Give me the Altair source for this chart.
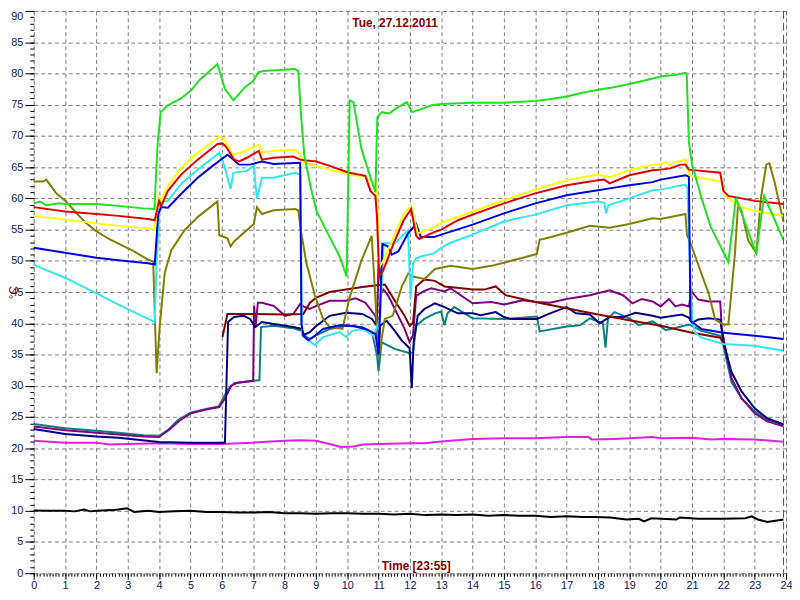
import altair as alt
import pandas as pd

# ---- data: (hour, temperature) ----
GREEN = [(0, 59.2), (0.19, 59.5), (0.4, 58.9), (0.82, 59.2), (1.0, 59.1), (2.0, 59.1), (2.7, 58.8), (3.5, 58.4),
         (3.85, 58.3), (3.95, 68.6), (4.05, 73.8), (4.28, 74.9), (4.5, 75.5), (4.7, 76.0), (5.02, 77.3), (5.3, 79.0),
         (5.86, 81.5), (6.1, 77.5), (6.37, 75.7), (6.74, 77.8), (7.0, 78.8), (7.17, 80.2), (7.33, 80.4), (8.33, 80.7),
         (8.44, 80.4), (8.52, 73.8), (8.63, 67.0), (8.84, 61.7), (9.02, 58.0), (9.44, 53.8), (9.76, 50.7), (9.98, 47.5),
         (10.08, 75.7), (10.2, 75.4), (10.45, 68.0), (10.7, 64.0), (10.9, 61.0), (10.96, 73.0), (11.1, 73.8),
         (11.35, 73.6), (11.5, 74.2), (11.9, 75.4), (12.08, 73.8), (12.7, 74.9), (13, 75.1), (14, 75.3), (15, 75.3),
         (16, 75.6), (16.5, 75.9), (17, 76.3), (17.5, 76.9), (18, 77.4), (18.5, 77.8), (19, 78.3), (19.42, 78.8),
         (20, 79.5), (20.5, 79.8), (20.79, 80.1), (20.83, 80.0), (20.9, 69.0), (21.0, 65.4), (21.3, 60.1),
         (21.6, 55.4), (22.16, 49.8), (22.4, 60.1), (23.05, 51.2), (23.3, 60.4), (23.92, 53.3)]

RED = [(0, 58.6), (1, 57.9), (2, 57.5), (2.7, 57.2), (3.65, 56.7), (3.86, 56.5), (4.0, 59.6), (4.07, 58.8),
       (4.28, 61.2), (4.7, 63.8), (5.23, 66.2), (5.86, 68.7), (6.02, 68.8), (6.13, 68.3), (6.39, 66.2), (6.55, 65.9),
       (6.8, 66.5), (7.18, 67.6), (7.28, 66.2), (7.65, 66.5), (8.28, 66.7), (8.5, 66.2), (8.7, 66.05), (9.02, 65.9),
       (9.44, 65.2), (10.06, 64.1), (10.58, 63.6), (10.74, 61.2), (10.9, 60.4), (10.95, 57.0), (11.02, 47.5),
       (11.15, 48.5), (11.5, 53.0), (11.8, 56.5), (12.04, 58.3), (12.2, 54.0), (12.3, 53.5), (12.77, 54.6),
       (13, 55.0), (13.53, 56.5), (14, 57.4), (15, 59.2), (16, 60.8), (17, 62.1), (18, 62.9), (18.2, 63.0),
       (18.37, 62.4), (19, 63.7), (19.74, 64.5), (20, 64.6), (20.3, 64.8), (20.63, 65.4), (20.79, 65.4),
       (20.9, 64.6), (21.9, 64.1), (22.0, 61.2), (22.16, 60.4), (23, 59.6), (23.92, 59.1)]

YELLOW = [(0, 57.2), (1, 56.6), (2, 56.0), (2.7, 55.6), (3.65, 55.2), (3.86, 54.9), (3.97, 60.4), (4.07, 59.6),
          (4.28, 62.0), (4.7, 64.9), (5.23, 67.3), (5.92, 69.9), (6.07, 69.6), (6.34, 67.0), (6.7, 67.5),
          (7.18, 68.6), (7.28, 67.4), (7.65, 67.6), (8.34, 67.8), (8.5, 67.0), (8.6, 65.7), (9.02, 65.2),
          (9.44, 64.6), (10.17, 63.7), (10.48, 63.6), (10.9, 62.3), (10.95, 61.2), (11.02, 49.0), (11.15, 50.0),
          (11.5, 54.0), (11.8, 57.5), (12.04, 58.8), (12.25, 54.4), (12.77, 55.4), (13, 56.1), (14, 57.9),
          (15, 59.7), (16, 61.4), (17, 62.9), (18, 63.8), (18.37, 63.4), (19, 64.5), (19.74, 65.4), (20, 65.4),
          (20.16, 65.9), (20.3, 65.3), (20.47, 65.8), (20.79, 66.2), (20.9, 63.8), (21.0, 63.5), (21.95, 62.7),
          (22.05, 60.6), (22.47, 58.8), (23, 58.0), (23.92, 57.2)]

BLUE = [(0, 52.1), (1, 51.3), (2, 50.5), (2.7, 50.1), (3.65, 49.6), (3.86, 49.4), (3.97, 57.5), (4.07, 58.6),
        (4.28, 58.5), (4.7, 60.7), (5.23, 63.3), (5.76, 65.4), (6.18, 67.0), (6.3, 66.5), (6.55, 65.4), (6.9, 65.4),
        (7.28, 65.9), (7.65, 65.5), (8.5, 65.7), (8.54, 40.0), (8.6, 38.0), (8.76, 37.3), (8.92, 37.8),
        (9.23, 39.1), (9.75, 39.7), (10.17, 39.6), (10.58, 39.1), (10.9, 38.3), (11.0, 35.0), (11.12, 52.7),
        (11.31, 52.3), (11.42, 51.0), (11.63, 51.5), (11.94, 54.4), (12.2, 55.9), (12.35, 53.8), (12.77, 53.8),
        (13, 54.2), (14, 55.8), (15, 57.6), (16, 59.2), (17, 60.5), (17.74, 61.1), (18, 61.3), (18.37, 61.6),
        (19, 62.1), (19.74, 62.6), (20, 63.0), (20.79, 63.7), (20.9, 63.5), (20.95, 40.4), (21.3, 39.1),
        (22.0, 38.5), (23, 38.0), (23.92, 37.5)]

CYAN = [(0, 49.4), (0.3, 48.7), (1, 47.3), (2, 44.8), (2.7, 43.0), (3.65, 40.7), (3.86, 40.2), (3.92, 50.0),
        (4.02, 59.4), (4.28, 59.6), (4.7, 62.3), (5.23, 64.6), (5.92, 67.3), (6.07, 65.4), (6.28, 61.5),
        (6.37, 64.1), (6.8, 64.4), (7.02, 65.2), (7.12, 59.9), (7.28, 63.3), (7.65, 63.3), (8.34, 64.1),
        (8.5, 63.8), (8.56, 38.0), (8.7, 37.5), (8.97, 36.5), (9.23, 37.8), (9.75, 38.6), (9.96, 37.8),
        (10.17, 38.8), (10.48, 39.1), (10.84, 38.0), (11.05, 40.7), (11.16, 52.8), (11.52, 52.8), (11.94, 54.9),
        (12.02, 44.0), (12.1, 49.6), (12.2, 50.4), (12.35, 50.7), (12.77, 51.2), (13, 52.1), (13.3, 52.9),
        (14, 54.2), (15, 56.3), (16, 57.4), (17, 58.9), (18, 59.5), (18.2, 59.3), (18.26, 57.6), (18.33, 58.9),
        (19, 60.0), (19.74, 61.3), (20, 61.4), (20.79, 62.2), (20.85, 61.7), (21.0, 40.6), (21.1, 38.5),
        (21.3, 37.7), (22.0, 36.7), (23, 36.4), (23.92, 35.6)]

OLIVE = [(0, 62.7), (0.3, 62.7), (0.4, 63.0), (0.72, 60.8), (1.03, 59.5), (1.35, 57.7), (1.66, 56.1), (1.98, 54.8),
         (2.4, 53.5), (2.72, 52.7), (3.2, 51.5), (3.65, 50.2), (3.81, 49.9), (3.92, 32.0), (4.02, 39.6),
         (4.18, 48.1), (4.39, 51.7), (4.81, 54.9), (5.23, 57.0), (5.86, 59.5), (5.92, 54.1), (6.18, 53.6),
         (6.28, 52.3), (6.39, 53.1), (7.02, 55.9), (7.12, 58.6), (7.28, 57.5), (7.65, 58.1), (8.34, 58.3),
         (8.44, 58.1), (8.52, 54.9), (8.7, 49.6), (8.97, 44.4), (9.23, 40.7), (9.44, 39.4), (9.85, 39.1),
         (10.07, 44.0), (10.45, 50.0), (10.78, 54.0), (10.9, 44.0), (11.0, 34.4), (11.2, 40.7), (11.45, 41.2),
         (11.75, 46.0), (11.95, 48.0), (12.1, 47.5), (12.47, 47.1), (12.8, 48.7), (13.3, 49.2), (14, 48.7),
         (14.6, 49.2), (15, 49.7), (15.6, 50.5), (16.05, 51.1), (16.14, 53.4), (16.26, 53.5), (17, 54.5),
         (17.74, 55.6), (18.37, 55.3), (19, 55.9), (19.74, 56.8), (20, 56.7), (20.79, 57.5), (20.84, 54.1),
         (21.0, 52.2), (21.26, 48.5), (21.53, 44.8), (21.74, 40.6), (22.0, 39.8), (22.16, 39.8), (22.37, 51.2),
         (22.47, 59.1), (22.58, 58.0), (22.79, 53.3), (23.05, 51.2), (23.2, 60.1), (23.37, 65.4), (23.47, 65.6),
         (23.63, 62.7), (23.92, 56.2)]

MAROON = [(6.02, 37.8), (6.18, 41.5), (7, 41.5), (8, 41.4), (8.6, 41.5), (8.81, 43.3), (9.02, 44.1), (9.44, 45.0),
          (9.96, 45.4), (10.48, 45.8), (10.95, 46.1), (11.2, 46.2), (11.52, 43.6), (11.83, 41.2), (11.99, 39.6),
          (12.1, 40.1), (12.2, 45.9), (12.46, 47.0), (12.8, 46.8), (13.1, 45.9), (13.5, 45.7), (14, 45.4),
          (14.37, 45.4), (14.74, 45.9), (15.05, 44.5), (16, 43.4), (17, 42.4), (18, 41.4), (19, 40.5), (20, 39.6),
          (21, 38.5), (21.9, 37.7), (22.05, 36.5)]

PURPLE = [(0, 23.5), (1, 22.9), (2, 22.5), (2.7, 22.2), (3.5, 21.9), (4, 21.8), (4.3, 22.9), (4.65, 24.4),
          (5.02, 25.6), (5.5, 26.2), (5.92, 26.6), (6.1, 28.0), (6.3, 30.0), (6.5, 30.5), (7.0, 30.8),
          (7.03, 42.8), (7.08, 39.5), (7.15, 43.3), (7.28, 43.3), (7.65, 42.8), (8.02, 41.2), (8.28, 41.5),
          (8.5, 43.1), (8.6, 42.7), (8.8, 42.3), (9.02, 42.8), (9.44, 43.6), (9.96, 43.6), (10.27, 44.0),
          (10.58, 43.3), (10.9, 41.2), (10.95, 39.6), (11.0, 50.0), (11.1, 45.0), (11.16, 45.4), (11.31, 44.4),
          (11.52, 42.3), (11.83, 39.1), (11.99, 37.0), (12.1, 38.1), (12.2, 44.4), (12.46, 45.2), (12.68, 45.6),
          (13.1, 45.1), (13.3, 45.6), (14, 43.2), (14.6, 43.4), (15, 43.0), (15.6, 43.7), (16.05, 43.4),
          (16.47, 43.3), (17, 43.9), (17.74, 44.5), (18.37, 45.3), (18.8, 44.5), (19.1, 43.2), (19.4, 43.9),
          (19.74, 43.5), (20, 42.7), (20.26, 43.9), (20.47, 42.7), (20.68, 43.0), (20.9, 42.7), (20.98, 45.1),
          (21.2, 43.8), (21.53, 43.5), (21.9, 43.5), (21.95, 39.1), (22.05, 36.4), (22.26, 31.2), (22.58, 28.0),
          (23, 25.6), (23.4, 24.3), (23.92, 23.5)]

NAVY = [(0, 23.1), (1, 22.3), (2, 21.9), (2.7, 21.7), (4, 21.0), (5, 20.9), (6.1, 20.9), (6.2, 40.2), (6.39, 41.0),
        (6.7, 41.2), (6.9, 40.7), (7.07, 39.4), (7.28, 40.2), (7.65, 39.9), (8.28, 39.4), (8.55, 39.1),
        (8.6, 38.1), (8.81, 38.6), (9.02, 39.6), (9.44, 41.2), (9.96, 41.7), (10.48, 41.5), (10.79, 40.7),
        (10.95, 39.6), (11.0, 35.0), (11.05, 39.6), (11.26, 40.4), (11.52, 38.8), (11.73, 37.3), (11.99, 36.0),
        (12.06, 29.6), (12.12, 37.0), (12.25, 41.2), (12.46, 42.3), (12.8, 43.2), (13.1, 42.6), (13.53, 41.6),
        (14, 41.6), (14.26, 41.3), (14.74, 41.8), (15, 41.0), (15.2, 40.7), (16.05, 40.7), (16.47, 41.6),
        (17, 42.6), (17.3, 41.6), (17.74, 41.4), (18.05, 40.0), (18.37, 41.0), (18.8, 41.0), (19.2, 41.7),
        (19.74, 41.2), (20, 40.9), (20.68, 41.4), (20.9, 40.9), (21.0, 40.1), (21.2, 40.6), (21.53, 40.8),
        (21.9, 40.6), (22.0, 37.0), (22.26, 32.2), (22.58, 29.1), (23, 26.4), (23.4, 24.8), (23.92, 23.8)]

TEAL = [(0, 23.9), (1, 23.2), (2, 22.8), (2.7, 22.5), (3.5, 22.1), (4, 22.0), (4.3, 23.0), (4.6, 24.5), (5, 25.7),
        (5.5, 26.3), (5.9, 26.7), (6.18, 29.3), (6.39, 30.4), (7.02, 30.8), (7.2, 30.9), (7.25, 39.4), (7.65, 39.6),
        (8.28, 39.2), (8.55, 38.8), (8.7, 37.8), (8.81, 37.5), (9.02, 38.1), (9.44, 39.1), (9.96, 39.6),
        (10.48, 39.4), (10.79, 38.6), (10.95, 34.9), (11.0, 32.3), (11.1, 37.0), (11.2, 36.7), (11.52, 35.9),
        (11.99, 35.2), (12.1, 35.4), (12.2, 39.6), (12.46, 40.7), (12.8, 41.6), (13, 41.9), (13.1, 39.7),
        (13.2, 41.6), (13.42, 42.6), (13.74, 41.6), (14, 40.8), (15, 40.7), (16.05, 41.1), (16.14, 38.7),
        (17, 39.5), (17.42, 39.7), (17.74, 40.8), (18.16, 40.0), (18.24, 36.1), (18.32, 40.8), (18.53, 41.8),
        (19, 40.8), (19.3, 39.7), (19.74, 40.3), (20.05, 39.3), (20.16, 38.9), (20.5, 39.3), (20.9, 39.8),
        (21.0, 39.6), (21.3, 38.8), (21.9, 38.0), (22.0, 36.4), (22.26, 30.6), (22.58, 28.0), (23, 25.9),
        (23.4, 24.6), (23.92, 23.8)]

MAGENTA = [(0, 21.2), (1, 20.9), (2, 20.9), (2.4, 20.6), (3, 20.7), (4, 20.8), (5, 20.7), (6, 20.7), (7, 20.9),
           (8, 21.2), (8.5, 21.3), (9, 21.2), (9.5, 20.6), (9.8, 20.2), (10.2, 20.3), (10.5, 20.6), (11, 20.7),
           (12, 20.8), (12.47, 20.8), (13, 21.1), (14, 21.5), (15, 21.6), (16, 21.6), (17, 21.8), (17.7, 21.8),
           (17.8, 21.4), (18.5, 21.5), (19, 21.6), (19.74, 21.8), (20, 21.6), (21, 21.7), (21.6, 21.4),
           (22, 21.5), (23, 21.4), (23.92, 21.05)]

BLACK = [(0, 10.05), (0.5, 10.0), (1, 10.0), (1.3, 9.9), (1.6, 10.2), (1.8, 9.9), (2, 10.0), (2.5, 10.1),
         (2.7, 10.2), (2.97, 10.4), (3.2, 9.8), (3.65, 10.0), (4, 9.8), (4.5, 9.9), (5, 10.0), (5.5, 9.8), (6, 9.8),
         (6.5, 9.7), (7, 9.7), (7.5, 9.8), (8, 9.6), (8.5, 9.6), (9, 9.5), (9.5, 9.6), (10, 9.6), (10.5, 9.5),
         (11, 9.5), (11.5, 9.4), (12, 9.5), (12.5, 9.3), (13, 9.4), (13.5, 9.3), (14, 9.4), (14.5, 9.2), (15, 9.3),
         (15.5, 9.2), (16, 9.2), (16.5, 9.0), (17, 9.1), (17.5, 9.0), (17.9, 9.0), (18.4, 8.9), (18.9, 8.6),
         (19.3, 8.7), (19.47, 8.3), (19.7, 8.8), (20.5, 8.6), (20.6, 8.9), (21.2, 8.7), (22.0, 8.7), (22.7, 8.8),
         (22.9, 9.1), (23.1, 8.6), (23.4, 8.2), (23.92, 8.6)]

NOW_HOUR = [23.92]          # 23:55 marker
X_TICKS = list(range(0, 25))
X_MINOR = [round(i * 0.1, 1) for i in range(0, 241)]
Y_TICKS = list(range(0, 91, 5))
Y_MINOR = list(range(0, 91))

SERIES = [
    ("s01", "#000000", BLACK),
    ("s02", "#e020e0", MAGENTA),
    ("s03", "#0a8080", TEAL),
    ("s04", "#800080", PURPLE),
    ("s05", "#000080", NAVY),
    ("s06", "#800000", MAROON),
    ("s07", "#808000", OLIVE),
    ("s08", "#30e8f0", CYAN),
    ("s09", "#0000e0", BLUE),
    ("s10", "#ffff00", YELLOW),
    ("s11", "#e00000", RED),
    ("s12", "#22e022", GREEN),
]

rows = []
for name, _c, pts in SERIES:
    for i, (h, v) in enumerate(pts):
        rows.append({"series": name, "hour": h, "temp": v, "idx": i})
df = pd.DataFrame(rows)

names = [s[0] for s in SERIES]
colors = [s[1] for s in SERIES]

FONT = "Liberation Sans"
LABEL_COLOR = "#141466"
TITLE_COLOR = "#800000"
GRID_COLOR = "#808080"

xscale = alt.Scale(domain=[0, 24], nice=False, zero=False)
yscale = alt.Scale(domain=[0, 90], nice=False, zero=False)

x_major = alt.Axis(orient="bottom", values=X_TICKS, format="d", tickSize=6, tickColor="#000000",
                   labelPadding=0, labelFont=FONT, labelFontSize=11, labelColor=LABEL_COLOR,
                   labelFlush=False, labelOverlap=False, domain=False,
                   grid=True, gridColor=GRID_COLOR, gridDash=[4, 3], gridWidth=1,
                   title="Time [23:55]", titleX=386, titleY=-8, titleFont=FONT, titleFontSize=12,
                   titleFontWeight="bold", titleColor=TITLE_COLOR, titleBaseline="middle", titleAlign="center")
y_major = alt.Axis(orient="left", values=Y_TICKS, format="d", tickSize=9, tickColor="#000000",
                   labelPadding=2, labelFont=FONT, labelFontSize=11, labelColor=LABEL_COLOR,
                   labelBaseline={"condition": {"test": "datum.value == 90", "value": "top"}, "value": "middle"},
                   labelFlush=False, labelOverlap=False, domain=False,
                   grid=True, gridColor=GRID_COLOR, gridDash=[4, 3], gridWidth=1,
                   title="°C", titleX=-20, titleY=284, titleFont=FONT, titleFontSize=12,
                   titleFontWeight="normal", titleColor=TITLE_COLOR, titleAlign="center", titleBaseline="middle")
x_minor = alt.Axis(orient="bottom", values=X_MINOR, tickSize=3, tickColor="#000000", labels=False,
                   grid=False, domain=False, title=None)
y_minor = alt.Axis(orient="left", values=Y_MINOR, tickSize=4, tickColor="#000000", labels=False,
                   grid=False, domain=False, title=None)

base = alt.Chart(df)

minor = base.mark_line(opacity=0).encode(
    x=alt.X("hour:Q", scale=xscale, axis=x_minor),
    y=alt.Y("temp:Q", scale=yscale, axis=y_minor),
    detail="series:N",
)

lines = base.mark_line(strokeWidth=2).encode(
    x=alt.X("hour:Q", scale=xscale, axis=x_major),
    y=alt.Y("temp:Q", scale=yscale, axis=y_major),
    color=alt.Color("series:N", scale=alt.Scale(domain=names, range=colors), legend=None),
    order="idx:Q",
)

now_rule = alt.Chart(pd.DataFrame({"hour": NOW_HOUR})).mark_rule(
    color="#1e7a1e", strokeDash=[8, 4], strokeWidth=1
).encode(x=alt.X("hour:Q", scale=xscale, axis=None))

chart = (
    alt.layer(minor, lines, now_rule)
    .resolve_axis(x="independent", y="independent")
    .properties(
        width=760,
        height=568,
        padding={"left": 26, "top": 0, "right": 6, "bottom": 16},
        autosize=alt.AutoSizeParams(type="none"),
        title=alt.TitleParams("Tue, 27.12.2011", anchor="middle", frame="group", offset=-20, dx=-15,
                              font=FONT, fontSize=12, fontWeight="bold", color=TITLE_COLOR),
    )
    .configure_view(stroke=None)
    .configure(background="white")
)

chart.save("out.html", embed_options={"renderer": "svg", "actions": False})
